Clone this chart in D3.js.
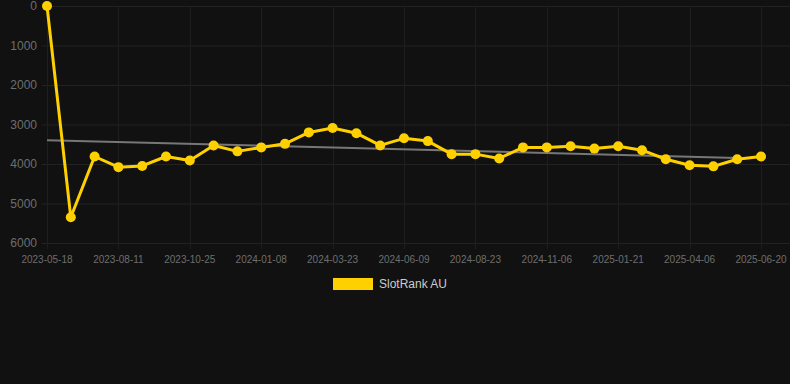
<!DOCTYPE html>
<html>
<head>
<meta charset="utf-8">
<script src="https://cdn.jsdelivr.net/npm/d3@7"></script>
<style>
  html, body { margin: 0; padding: 0; background: #111111; }
  svg { display: block; font-family: "Liberation Sans", Arial, sans-serif; }
</style>
</head>
<body>
<svg id="chart" width="790" height="384"></svg>
<script>
// dates (every third one is labelled on the axis)
const dates = [
  "2023-05-18", "2023-06-16", "2023-07-14", "2023-08-11", "2023-09-05", "2023-09-30",
  "2023-10-25", "2023-11-19", "2023-12-14", "2024-01-08", "2024-02-02", "2024-02-27",
  "2024-03-23", "2024-04-17", "2024-05-15", "2024-06-09", "2024-07-04", "2024-07-29",
  "2024-08-23", "2024-09-17", "2024-10-12", "2024-11-06", "2024-12-01", "2024-12-27",
  "2025-01-21", "2025-02-15", "2025-03-12", "2025-04-06", "2025-05-01", "2025-05-26",
  "2025-06-20"
];
const rankAU = [
  0, 5350, 3810, 4080, 4050, 3810, 3910, 3530, 3680, 3580, 3490, 3200,
  3090, 3220, 3530, 3350, 3420, 3750, 3750, 3860, 3580, 3580, 3550, 3610,
  3550, 3650, 3880, 4030, 4060, 3880, 3810
];
const trendIdx = [0, 29];
const trendVal = [3400, 3845];
const yTicks = [0, 1000, 2000, 3000, 4000, 5000, 6000];
const seriesName = "SlotRank AU";

const svg = d3.select("#chart");
const margin = { left: 47, right: 29, top: 6, bottom: 141 };
const width = 790, height = 384;

const x = d3.scalePoint()
  .domain(dates)
  .range([margin.left, width - margin.right]);

const y = d3.scaleLinear()
  .domain([0, 6000])
  .range([margin.top, height - margin.bottom]);

// grid
const grid = svg.append("g");
grid.selectAll(".hgrid")
  .data(yTicks)
  .join("line")
  .attr("x1", 42)
  .attr("x2", width)
  .attr("y1", (d) => y(d) + 0.5)
  .attr("y2", (d) => y(d) + 0.5)
  .attr("stroke", "#222222")
  .attr("stroke-width", 1);

const tickDates = dates.filter((d, i) => i % 3 === 0);
grid.selectAll(".vgrid")
  .data(tickDates)
  .join("line")
  .attr("x1", (d) => Math.round(x(d)) + 0.5)
  .attr("x2", (d) => Math.round(x(d)) + 0.5)
  .attr("y1", y(0))
  .attr("y2", y(6000) + 6)
  .attr("stroke", "#1e1e1e")
  .attr("stroke-width", 1);

// y labels
svg.append("g")
  .selectAll("text")
  .data(yTicks)
  .join("text")
  .attr("x", 37)
  .attr("y", (d) => y(d))
  .attr("dy", "0.35em")
  .attr("text-anchor", "end")
  .attr("fill", "#6e6e6e")
  .style("font-size", "12px")
  .text((d) => d);

// x labels
svg.append("g")
  .selectAll("text")
  .data(tickDates)
  .join("text")
  .attr("x", (d) => x(d))
  .attr("y", 263)
  .attr("text-anchor", "middle")
  .attr("fill", "#6e6e6e")
  .style("font-size", "10px")
  .text((d) => d);

// trend line
svg.append("line")
  .attr("x1", x(dates[trendIdx[0]]))
  .attr("x2", x(dates[trendIdx[1]]))
  .attr("y1", y(trendVal[0]))
  .attr("y2", y(trendVal[1]))
  .attr("stroke", "#777777")
  .attr("stroke-width", 2);

// series
const data = dates.map((d, i) => ({ date: d, value: rankAU[i] }));
const line = d3.line()
  .x((d) => x(d.date))
  .y((d) => y(d.value));

svg.append("path")
  .datum(data)
  .attr("d", line)
  .attr("fill", "none")
  .attr("stroke", "#ffd000")
  .attr("stroke-width", 3)
  .attr("stroke-linejoin", "round");

svg.append("g")
  .selectAll("circle")
  .data(data)
  .join("circle")
  .attr("cx", (d) => x(d.date))
  .attr("cy", (d) => y(d.value))
  .attr("r", 5)
  .attr("fill", "#ffd000");

// legend
const legend = svg.append("g").attr("transform", "translate(333,278)");
legend.append("rect")
  .attr("width", 40)
  .attr("height", 12)
  .attr("fill", "#ffd000");
legend.append("text")
  .attr("x", 46)
  .attr("y", 6)
  .attr("dy", "0.35em")
  .attr("fill", "#cccccc")
  .style("font-size", "12px")
  .text(seriesName);
</script>
</body>
</html>
